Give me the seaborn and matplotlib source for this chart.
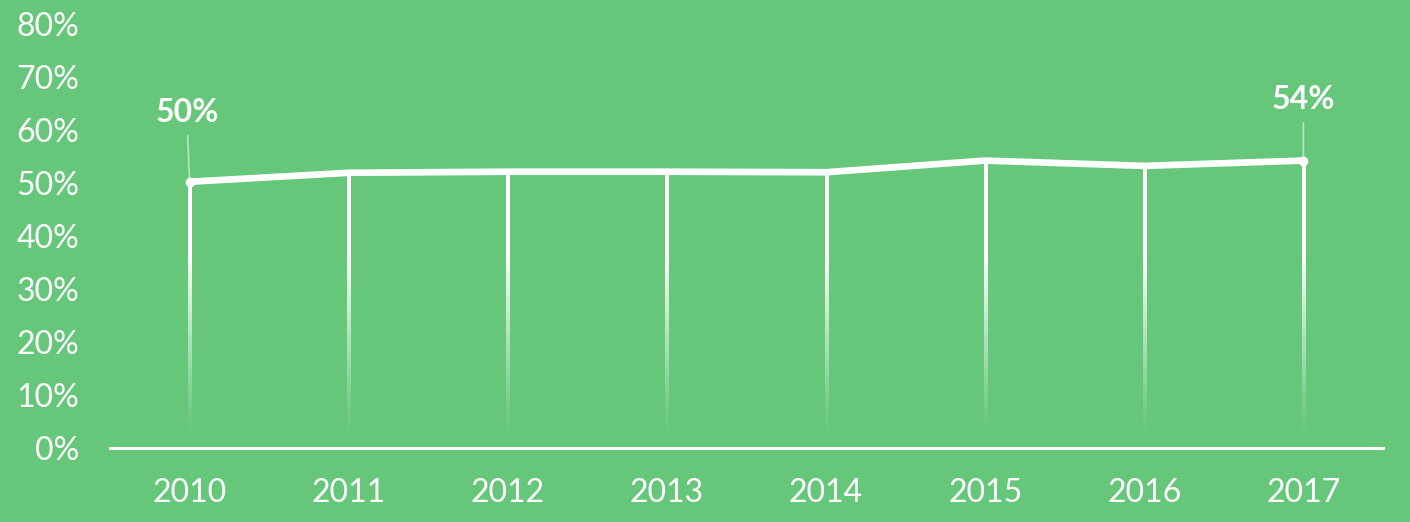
import numpy as np
import matplotlib
matplotlib.use("Agg")
import matplotlib.pyplot as plt
import seaborn as sns
import pandas as pd

years = ["2010", "2011", "2012", "2013", "2014", "2015", "2016", "2017"]
share = [50.2, 51.9, 52.1, 52.1, 52.0, 54.2, 53.2, 54.2]
label_years = ["2010", "2017"]
label_texts = ["50%", "54%"]
y_ticks = [0, 10, 20, 30, 40, 50, 60, 70, 80]
y_tick_labels = [f"{v}%" for v in y_ticks]

BG = "#66C77B"
sns.set_theme(style="white")
plt.rcParams["font.family"] = ["Lato", "DejaVu Sans"]

fig = plt.figure(figsize=(14.1, 5.22), dpi=100, facecolor=BG)
ax = fig.add_axes([0.078, 0.1427, 0.9028, 0.8113])
ax.set_facecolor(BG)

df = pd.DataFrame({"year": years, "share": share})
df["pos"] = np.arange(len(df))

# fading vertical drop lines (gradient images)
half_w = 0.0095
for p, v in zip(df["pos"], df["share"]):
    ys = np.linspace(v, 2.0, 300)  # top to bottom
    alpha = np.where(ys >= 36, 1.0, np.clip((ys - 2.0) / 34.0, 0, 1) ** 1.2)
    img = np.ones((len(ys), 2, 4))
    img[:, :, 3] = alpha[:, None]
    ax.imshow(img, extent=(p - half_w, p + half_w, 2.0, v), aspect="auto",
              interpolation="bilinear", zorder=2)

sns.lineplot(data=df, x="pos", y="share", color="white", linewidth=4.8, ax=ax, zorder=3,
             solid_capstyle="round", solid_joinstyle="round")

# end markers and labels
offsets = {"2010": (-2, 50), "2017": (0, 44)}
for yr, txt in zip(label_years, label_texts):
    row = df[df["year"] == yr].iloc[0]
    ax.plot(row["pos"], row["share"], "o", color="white", markersize=6, zorder=4)
    ax.annotate(txt, xy=(row["pos"], row["share"]), xytext=offsets[yr],
                textcoords="offset points", ha="center", va="center",
                color="white", fontsize=23, fontweight="bold",
                arrowprops=dict(arrowstyle="-", color="white", alpha=0.5, lw=1.3,
                                shrinkA=4, shrinkB=1), zorder=5)

ax.set_xlim(-0.5, len(years) - 0.5)
ax.set_ylim(0, 80)
ax.set_aspect("auto")
ax.set_xticks(df["pos"])
ax.set_xticklabels(years)
ax.set_yticks(y_ticks)
ax.set_yticklabels(y_tick_labels)
ax.tick_params(axis="x", length=0, pad=22, labelsize=23, labelcolor="white")
ax.tick_params(axis="y", length=0, pad=22, labelsize=23, labelcolor="white")
for lab in ax.get_xticklabels() + ax.get_yticklabels():
    lab.set_fontweight("normal")
ax.set_xlabel("")
ax.set_ylabel("")
for s in ["top", "right", "left"]:
    ax.spines[s].set_visible(False)
ax.spines["bottom"].set_color("white")
ax.spines["bottom"].set_linewidth(2.2)
ax.spines["bottom"].set_zorder(6)
ax.grid(False)

fig.savefig("out.png", dpi=100, facecolor=BG)
